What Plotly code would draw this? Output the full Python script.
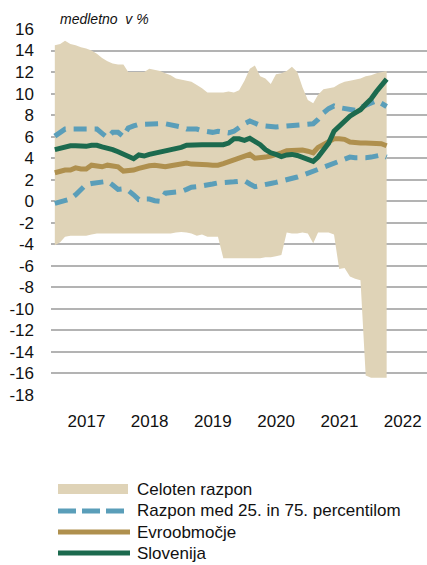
import pandas as pd
import plotly.graph_objects as go

# Monthly observations, January 2017 - April 2022
months = pd.date_range("2017-01-01", periods=64, freq="MS")

range_max = [14.5, 14.6, 14.9, 14.6, 14.5, 14.3, 14.2, 14.0, 13.7, 13.3, 13.0, 12.8,
             12.7, 12.7, 12.0, 12.0, 12.0, 12.0, 12.3, 12.2, 12.1, 11.9, 11.7, 11.4,
             11.3, 11.2, 11.1, 10.8, 10.5, 10.1, 10.1, 10.1, 10.1, 10.2, 10.1, 10.3,
             11.2, 12.3, 12.6, 11.6, 11.4, 10.9, 11.8, 11.9, 12.1, 12.5, 12.0, 10.6,
             9.4, 9.1, 9.9, 10.4, 10.5, 10.6, 10.9, 11.1, 11.2, 11.3, 11.4, 11.6,
             11.7, 11.9, 12.0, 12.1]
range_min = [-4.1, -3.8, -3.3, -3.2, -3.2, -3.2, -3.2, -3.1, -3.0, -3.0, -3.0, -3.0,
             -3.0, -3.0, -3.0, -3.0, -3.0, -3.0, -3.0, -3.0, -3.0, -3.0, -3.0, -2.9,
             -2.85, -2.9, -3.0, -3.2, -3.1, -3.3, -3.3, -3.3, -5.3, -5.3, -5.3, -5.3,
             -5.3, -5.3, -5.3, -5.3, -5.2, -5.2, -5.1, -5.0, -2.9, -3.0, -3.0, -2.9,
             -3.0, -3.9, -2.9, -2.9, -2.9, -3.1, -6.3, -6.2, -7.0, -7.2, -7.35, -16.2,
             -16.4, -16.4, -16.4, -16.4]
p75 = [6.05, 6.4, 6.7, 6.7, 6.7, 6.7, 6.7, 6.7, 6.7, 6.3, 5.9, 6.4,
       6.4, 6.0, 6.8, 7.0, 7.15, 7.15, 7.2, 7.2, 7.2, 7.2, 7.1, 7.05,
       6.9, 6.7, 6.7, 6.7, 6.55, 6.45, 6.4, 6.5, 6.45, 6.35, 6.5, 6.9,
       7.2, 7.45, 7.2, 7.05, 7.0, 6.9, 6.9, 6.95, 7.0, 7.05, 7.05, 7.05,
       7.1, 7.2, 7.6, 8.2, 8.6, 8.85, 8.7, 8.6, 8.5, 8.45, 8.7, 8.9,
       9.1, 9.35, 9.1, 8.8]
p25 = [-0.2, -0.1, 0.0, 0.2, 0.6, 1.1, 1.55, 1.65, 1.7, 1.75, 1.85, 1.5,
       1.1, 1.15, 1.0, 0.6, 0.15, 0.2, 0.2, 0.05, 0.0, 0.75, 0.8, 0.85,
       0.9, 1.1, 1.3, 1.35, 1.4, 1.5, 1.6, 1.7, 1.7, 1.7, 1.8, 1.85,
       1.9, 1.6, 1.35, 1.45, 1.6, 1.65, 1.75, 1.85, 1.95, 2.1, 2.25, 2.4,
       2.6, 2.75, 2.9, 3.1, 3.35, 3.6, 3.8, 4.0, 4.1, 4.05, 4.0, 4.05,
       4.1, 4.2, 4.3, 4.1]
euro_area = [2.65, 2.8, 2.9, 2.9, 3.1, 3.0, 3.0, 3.35, 3.25, 3.2, 3.35, 3.3,
             3.2, 2.8, 2.8, 2.9, 3.05, 3.2, 3.3, 3.35, 3.3, 3.2, 3.3, 3.4,
             3.45, 3.55, 3.45, 3.45, 3.5, 3.4, 3.35, 3.35, 3.5, 3.65, 3.8, 3.95,
             4.15, 4.35, 4.0, 4.0, 4.1, 4.2, 4.3, 4.5, 4.7, 4.75, 4.8, 4.75,
             4.65, 4.5, 5.0, 5.3, 5.6, 5.8, 5.8, 5.75, 5.5, 5.4, 5.4, 5.4,
             5.4, 5.4, 5.35, 5.15]
slovenia = [4.8, 4.95, 5.1, 5.15, 5.15, 5.1, 5.1, 5.2, 5.2, 5.05, 4.95, 4.8,
            4.6, 4.4, 4.2, 3.95, 4.3, 4.2, 4.35, 4.45, 4.55, 4.7, 4.75, 4.9,
            5.0, 5.2, 5.25, 5.25, 5.25, 5.25, 5.25, 5.25, 5.25, 5.4, 5.8, 5.8,
            5.65, 5.85, 5.6, 5.25, 4.8, 4.5, 4.35, 4.15, 4.3, 4.35, 4.25, 4.1,
            3.9, 3.7, 4.1, 4.7, 5.4, 6.5, 7.0, 7.5, 7.9, 8.2, 8.5, 9.0,
            9.5, 10.2, 10.8, 11.35]

y_ticks = list(range(-18, 17, 2))
y_tick_labels = [str(v) for v in y_ticks]

names = ["Celoten razpon", "Razpon med 25. in 75. percentilom",
         "Evroobmočje", "Slovenija"]

BAND = "#dfd3b7"
BLUE = "#5a9eb9"
GOLD = "#af904e"
GREEN = "#1c6a4e"
FONT = "Liberation Sans"
DASH = "13px,8px"

fig = go.Figure()

# full range band
fig.add_trace(go.Scatter(x=months, y=range_min, mode="lines",
                         line=dict(width=0, color=BAND), showlegend=False,
                         hoverinfo="skip"))
fig.add_trace(go.Scatter(x=months, y=range_max, mode="lines", fill="tonexty",
                         fillcolor=BAND, line=dict(width=0, color=BAND),
                         name=names[0], showlegend=False))

# interquartile bounds
fig.add_trace(go.Scatter(x=months, y=p75, mode="lines", name=names[1],
                         line=dict(color=BLUE, width=5, dash=DASH),
                         showlegend=False))
fig.add_trace(go.Scatter(x=months, y=p25, mode="lines", name=names[1],
                         line=dict(color=BLUE, width=5, dash=DASH),
                         showlegend=False))

fig.add_trace(go.Scatter(x=months, y=euro_area, mode="lines", name=names[2],
                         line=dict(color=GOLD, width=5), showlegend=False))
fig.add_trace(go.Scatter(x=months, y=slovenia, mode="lines", name=names[3],
                         line=dict(color=GREEN, width=5), showlegend=False))

# plot area in pixels
W, H = 427, 565
L, R, T, B = 51, 0, 29, 170
PW, PH = W - L - R, H - T - B


def px(x):
    return (x - L) / PW


def py(y):
    return (H - B - y) / PH


# legend drawn below the plot
shapes = []
annotations = []
legend_rows = [489, 511, 532, 553]
shapes.append(dict(type="rect", xref="paper", yref="paper",
                   x0=px(58), x1=px(128), y0=py(legend_rows[0] + 5),
                   y1=py(legend_rows[0] - 5), fillcolor=BAND, line_width=0))
shapes.append(dict(type="line", xref="paper", yref="paper",
                   x0=px(58), x1=px(128), y0=py(legend_rows[1]), y1=py(legend_rows[1]),
                   line=dict(color=BLUE, width=5, dash="18px,6px")))
shapes.append(dict(type="line", xref="paper", yref="paper",
                   x0=px(58), x1=px(130), y0=py(legend_rows[2]), y1=py(legend_rows[2]),
                   line=dict(color=GOLD, width=5)))
shapes.append(dict(type="line", xref="paper", yref="paper",
                   x0=px(58), x1=px(130), y0=py(legend_rows[3]), y1=py(legend_rows[3]),
                   line=dict(color=GREEN, width=5)))
for name, row in zip(names, legend_rows):
    annotations.append(dict(text=name, xref="paper", yref="paper",
                            x=px(135), y=py(row), xanchor="left", yanchor="middle",
                            showarrow=False,
                            font=dict(family=FONT, size=17, color="#111111")))

annotations.append(dict(text="<i>medletno  v %</i>", xref="paper", yref="paper",
                        x=px(58), y=py(19), xanchor="left", yanchor="middle",
                        showarrow=False,
                        font=dict(family=FONT, size=14, color="#111111")))

fig.update_layout(
    width=W, height=H,
    margin=dict(l=L, r=R, t=T, b=B, pad=0),
    paper_bgcolor="white", plot_bgcolor="white",
    font=dict(family=FONT, size=17, color="#111111"),
    shapes=shapes, annotations=annotations,
    showlegend=False,
    xaxis=dict(type="date", range=["2016-12-10", "2022-11-20"],
               tick0="2017-01-01", dtick="M12", tickformat="%Y",
               ticklabelmode="period", showgrid=False, zeroline=False,
               showline=False, ticks="", ticklabelstandoff=14,
               tickfont=dict(family=FONT, size=17)),
    yaxis=dict(range=[-18, 16], tickvals=y_ticks, ticktext=y_tick_labels,
               showgrid=True, gridcolor="#b3b3b3", gridwidth=1.7,
               zeroline=False, showline=False, ticks="",
               ticklabelstandoff=16, tickfont=dict(family=FONT, size=17)),
)

fig.write_html("out.html")
